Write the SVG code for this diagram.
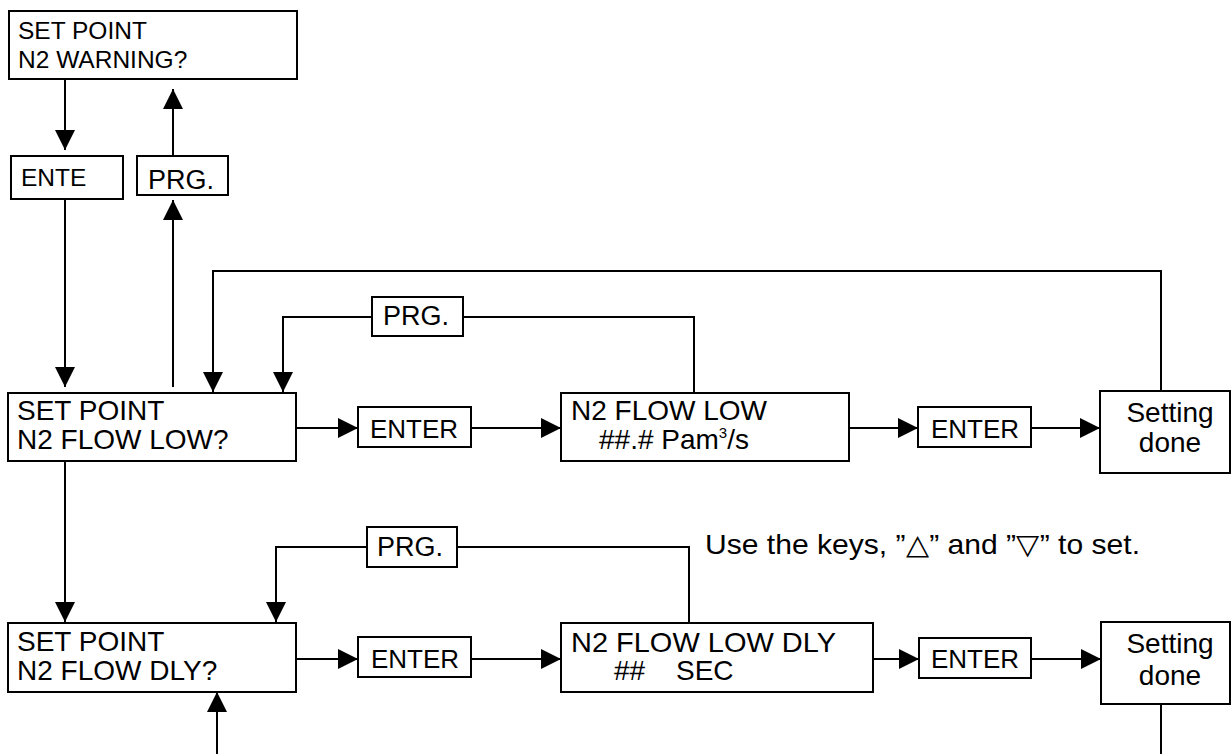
<svg xmlns="http://www.w3.org/2000/svg" width="1231" height="754" viewBox="0 0 1231 754">
<defs>
<marker id="ah" viewBox="0 0 20 20" refX="20" refY="10" markerWidth="20" markerHeight="20" markerUnits="userSpaceOnUse" orient="auto">
<path d="M0,0 L20,10 L0,20 z" fill="#000"/>
</marker>
<style>
rect{fill:#fff;stroke:#000;stroke-width:2}
text{font-family:"Liberation Sans",Arial,sans-serif;fill:#000}
.big{font-size:28px}
.top{font-size:24.5px}
.key{font-size:26px}
.prg{font-size:27px}
.c{text-anchor:middle}
#connectors path{fill:none;stroke:#000;stroke-width:2}
</style>
</defs>
<rect x="0" y="0" width="1231" height="754" style="stroke:none;fill:#fff"/>
<g id="connectors">
<path d="M65,79 V150" marker-end="url(#ah)"/>
<path d="M173,155 V89" marker-end="url(#ah)"/>
<path d="M65,199 V387" marker-end="url(#ah)"/>
<path d="M173,387 V200" marker-end="url(#ah)"/>
<path d="M1161,391 V271 H213 V392" marker-end="url(#ah)"/>
<path d="M694,393 V317 H463"/>
<path d="M372,317 H283 V392" marker-end="url(#ah)"/>
<path d="M296,428 H358" marker-end="url(#ah)"/>
<path d="M471,428 H561" marker-end="url(#ah)"/>
<path d="M849,428 H918" marker-end="url(#ah)"/>
<path d="M1031,428 H1100" marker-end="url(#ah)"/>
<path d="M65,461 V622" marker-end="url(#ah)"/>
<path d="M689,623 V547 H457"/>
<path d="M367,547 H276 V622" marker-end="url(#ah)"/>
<path d="M296,659 H358" marker-end="url(#ah)"/>
<path d="M471,659 H561" marker-end="url(#ah)"/>
<path d="M873,659 H919" marker-end="url(#ah)"/>
<path d="M1031,659 H1101" marker-end="url(#ah)"/>
<path d="M1161,704 V754"/>
<path d="M217,754 V692" marker-end="url(#ah)"/>
</g>
<g id="n2warning">
<rect x="9" y="11" width="288" height="68"/>
<text class="top" x="18" y="39">SET POINT</text>
<text class="top" x="18" y="68">N2 WARNING?</text>
</g>
<g id="ente">
<rect x="11" y="156" width="112" height="43"/>
<text class="top" x="21" y="186">ENTE</text>
</g>
<g id="prg0">
<rect x="137" y="156" width="91" height="39"/>
<text class="prg" x="148" y="189">PRG.</text>
</g>
<g id="flowlow">
<rect x="8" y="393" width="288" height="68"/>
<text class="big" x="17" y="420">SET POINT</text>
<text class="big" x="17" y="449">N2 FLOW LOW?</text>
</g>
<g id="prg1">
<rect x="372" y="297" width="91" height="39"/>
<text class="prg" x="383" y="325">PRG.</text>
</g>
<g id="enter1">
<rect x="358" y="407" width="113" height="40"/>
<text class="key" x="370" y="438">ENTER</text>
</g>
<g id="flowlowval">
<rect x="561" y="393" width="288" height="68"/>
<text class="big" x="571" y="420">N2 FLOW LOW</text>
<text class="big" x="599" y="449">##.# Pam<tspan font-size="15" baseline-shift="11">3</tspan>/s</text>
</g>
<g id="enter2">
<rect x="918" y="407" width="113" height="40"/>
<text class="key" x="931" y="438">ENTER</text>
</g>
<g id="done1">
<rect x="1100" y="391" width="130" height="82"/>
<text class="big c" x="1170" y="422">Setting</text>
<text class="big c" x="1170" y="452">done</text>
</g>
<g id="flowdly">
<rect x="8" y="623" width="288" height="69"/>
<text class="big" x="17" y="651">SET POINT</text>
<text class="big" x="17" y="680">N2 FLOW DLY?</text>
</g>
<g id="prg2">
<rect x="367" y="527" width="90" height="40"/>
<text class="prg" x="377" y="556">PRG.</text>
</g>
<g id="enter3">
<rect x="358" y="637" width="113" height="40"/>
<text class="key" x="371" y="668">ENTER</text>
</g>
<g id="flowdlyval">
<rect x="561" y="623" width="312" height="69"/>
<text class="big" x="571" y="652" textLength="265" lengthAdjust="spacingAndGlyphs">N2 FLOW LOW DLY</text>
<text class="big" y="680"><tspan x="614">##</tspan><tspan x="676">SEC</tspan></text>
</g>
<g id="enter4">
<rect x="919" y="638" width="112" height="40"/>
<text class="key" x="931" y="668">ENTER</text>
</g>
<g id="done2">
<rect x="1101" y="622" width="129" height="82"/>
<text class="big c" x="1170" y="653">Setting</text>
<text class="big c" x="1170" y="685">done</text>
</g>
<g id="note">
<text x="705" y="554" style="font-size:28px" textLength="435" lengthAdjust="spacingAndGlyphs">Use the keys, ”△” and ”▽” to set.</text>
</g>
</svg>
